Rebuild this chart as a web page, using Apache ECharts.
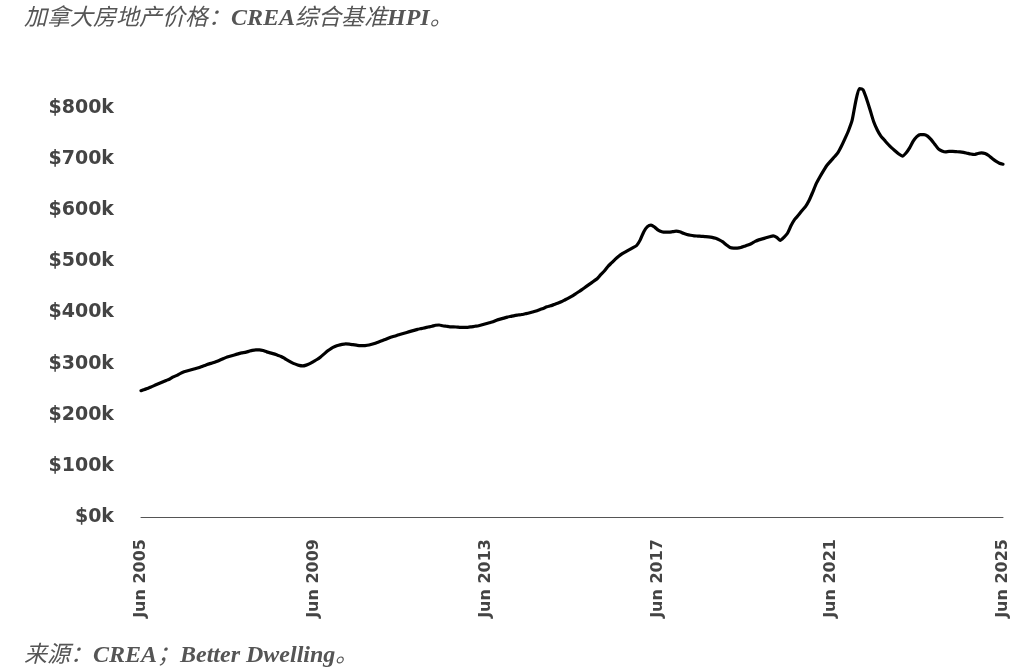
<!DOCTYPE html>
<html>
<head>
<meta charset="utf-8">
<script src="https://cdn.jsdelivr.net/npm/echarts@6/dist/echarts.min.js"></script>
<style>
html,body{margin:0;padding:0;background:#fff;}
#chart{width:1024px;height:670px;}
</style>
</head>
<body>
<div id="chart"></div>
<script>
// Monthly categories: Jun 2005 .. Jun 2025
var monthNames = ['Jan','Feb','Mar','Apr','May','Jun','Jul','Aug','Sep','Oct','Nov','Dec'];
var startYear = 2005, startMonth = 5, monthCount = 241;
var categories = [];
for (var i = 0; i < monthCount; i++) {
  var mi = startMonth + i;
  categories.push(monthNames[mi % 12] + ' ' + (startYear + Math.floor(mi / 12)));
}

// CREA composite benchmark HPI, thousands of CAD
var hpi2005to2009 = [247,249.5,252,255,258,261,264,267,270,274,277,281,284,286,288,290,292,294.5,297,299.5,301.5,304,307,310,313,315,317,319,321,322,324,326,327,327,325.5,323,321,319,316.5,314,310,306,302,299,296.5,295.5,297,300];
var hpi2009to2013 = [304,308,313,319,325,330,333.5,336,337.5,338.5,338,337,336,335,335,336,337.5,339.5,342,344.5,347,350,352.5,354.5,357,359,361,363,365,367,368.5,370,371.5,373,375,375.5,374,373,372,372,371.5,371,371,371,372,373,374,376];
var hpi2013to2017 = [378,380,382,385,387,389,391,392.5,394,395,396,397.5,399,401,403,405.5,408,411,413,415.5,418,421,424.5,428,432,436.5,441,446,451,456,461,466,474,481,490,497,504,510,515,519,523,527,531,542,558,568,571,567];
var hpi2017to2021 = [561,558,557,557,558,559,558,555,552.5,551,550,549.5,549,548.5,548,547,545,542,538,532,527,526,526,527,529.5,532,535,539,542,544,546,548,550,547,541,547,555,570,582,590,599,607,619,635,652,665,677,688];
var hpi2021to2025 = [696,704,712,725,740,756,776,813,838,836,818,796,773,757,745,737,729,722,716,710,706,712,722,735,744,748,748,745,738,729,720,716,714,715,715,714.5,714,713,711.5,710,709,711,712,711,707,701,696,692,690];

var values = [].concat(hpi2005to2009, hpi2009to2013, hpi2013to2017, hpi2017to2021, hpi2021to2025);

var yTicks = {min: 0, max: 850, interval: 100};

var serifFam = '"Liberation Serif", "Noto Sans CJK SC", serif';
var richText = {
  c: {fontFamily: serifFam, fontStyle: 'italic', fontWeight: 'normal', fontSize: 23, color: '#555555'},
  l: {fontFamily: serifFam, fontStyle: 'italic', fontWeight: 'bold', fontSize: 24, color: '#555555'}
};

var chart = echarts.init(document.getElementById('chart'), null, {renderer: 'canvas'});
chart.setOption({
  backgroundColor: '#ffffff',
  animation: false,
  title: [{
    text: '{c|加拿大房地产价格：}{l|CREA}{c|综合基准}{l|HPI}{c|。}',
    left: 19, top: 2,
    textStyle: {rich: richText}
  }, {
    text: '{c|来源：}{l|CREA}{c|；}{l|Better Dwelling}{c|。}',
    left: 19, top: 639,
    textStyle: {rich: richText}
  }],
  grid: {left: 141, right: 21, top: 82.4, bottom: 153, containLabel: false},
  xAxis: {
    type: 'category',
    data: categories,
    boundaryGap: false,
    axisLine: {show: true, lineStyle: {color: '#555555', width: 1}},
    axisTick: {show: false},
    splitLine: {show: false},
    axisLabel: {
      interval: 47,
      rotate: 90,
      margin: 22,
      fontFamily: '"DejaVu Sans", sans-serif',
      fontWeight: 'bold',
      fontSize: 16,
      color: '#444444'
    }
  },
  yAxis: {
    type: 'value',
    min: yTicks.min, max: yTicks.max, interval: yTicks.interval,
    axisLine: {show: false},
    axisTick: {show: false},
    splitLine: {show: false},
    axisLabel: {
      showMaxLabel: false,
      margin: 27,
      fontFamily: '"DejaVu Sans", sans-serif',
      fontWeight: 'bold',
      fontSize: 19,
      color: '#444444',
      formatter: function (v) { return v % 100 === 0 ? '$' + v + 'k' : ''; }
    }
  },
  series: [{
    type: 'line',
    data: values,
    showSymbol: false,
    symbol: 'none',
    smooth: 0.2,
    lineStyle: {color: '#000000', width: 3.2, join: 'round', cap: 'round'}
  }]
});
</script>
</body>
</html>
